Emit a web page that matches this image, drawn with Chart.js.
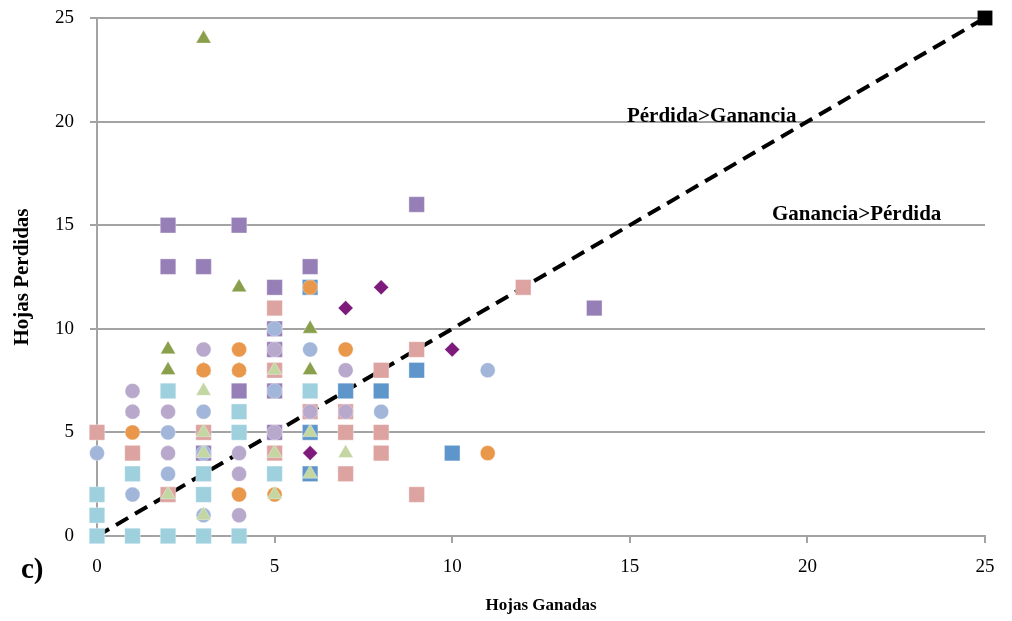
<!DOCTYPE html>
<html>
<head>
<meta charset="utf-8">
<script src="https://cdn.jsdelivr.net/npm/chart.js@4/dist/chart.umd.min.js"></script>
<style>
    html, body { margin: 0; padding: 0; background: #fff; }
    #wrap { width: 1012px; height: 621px; }
</style>
</head>
<body>
<div id="wrap"><canvas id="chart" width="1012" height="621"></canvas></div>
<script>
// values, [hojas ganadas, hojas perdidas]
const lavenderCircles = [[3, 9], [5, 9], [7, 8], [1, 7], [1, 6], [2, 6], [2, 4], [4, 4], [4, 3], [4, 1], [5, 5], [6, 6], [7, 6]];
const lightGreenTriangles = [[5, 8], [3, 7], [3, 5], [3, 4], [5, 4], [2, 2], [5, 2], [3, 1], [6, 5], [7, 4], [6, 3], [1, 6], [2, 4]];
const lightBlueCircles = [[5, 10], [6, 9], [5, 7], [3, 6], [2, 5], [0, 4], [2, 3], [1, 2], [3, 1], [3, 4], [8, 6], [11, 8]];
const orangeCircles = [[6, 12], [4, 9], [7, 9], [3, 8], [4, 8], [1, 5], [4, 2], [5, 2], [11, 4]];
const pinkSquares = [[5, 11], [5, 8], [0, 5], [1, 4], [3, 5], [2, 2], [5, 4], [6, 6], [7, 6], [7, 5], [8, 5], [7, 3], [8, 8], [9, 9], [12, 12], [8, 4], [9, 2]];
const aquaSquares = [[2, 7], [4, 6], [4, 5], [1, 3], [3, 3], [5, 3], [0, 2], [3, 2], [0, 1], [0, 0], [1, 0], [2, 0], [3, 0], [4, 0], [6, 7]];
const greenTriangles = [[3, 24], [4, 12], [6, 10], [2, 9], [2, 8], [3, 8], [4, 8], [6, 8]];
const purpleSquares = [[2, 15], [4, 15], [2, 13], [3, 13], [6, 13], [5, 12], [9, 16], [14, 11], [5, 10], [5, 9], [4, 7], [5, 7], [5, 5], [3, 4]];
const blueSquares = [[6, 12], [9, 8], [7, 7], [8, 7], [6, 5], [6, 3], [10, 4]];
const diamonds = [[8, 12], [7, 11], [10, 9], [6, 4]];

// reference line (ganancia = pérdida)
const refLine = [[0, 0], [25, 25]];

const xTicks = [0, 5, 10, 15, 20, 25];
const yTicks = [0, 5, 10, 15, 20, 25];

const toPoints = arr => arr.map(p => ({x: p[0], y: p[1]}));

function markerSet(data, color, style, radius) {
    return {
        data: toPoints(data),
        pointStyle: style,
        pointRadius: radius,
        pointHoverRadius: radius,
        backgroundColor: color,
        borderColor: 'rgba(255,255,255,0.35)',
        borderWidth: 1,
        showLine: false,
        clip: false
    };
}

const serif = "'Liberation Serif', 'DejaVu Serif', serif";
const gridGray = '#a3a3a3';

// texts drawn on top of the chart
const labelPlugin = {
    id: 'labels',
    afterDraw(chart) {
        const ctx = chart.ctx;
        const xs = chart.scales.x;
        ctx.save();
        ctx.fillStyle = '#000';
        ctx.textBaseline = 'alphabetic';
        ctx.textAlign = 'left';
        ctx.font = 'bold 21px ' + serif;
        ctx.fillText('Pérdida>Ganancia', xs.getPixelForValue(14.92), 122);
        ctx.fillText('Ganancia>Pérdida', xs.getPixelForValue(19.0), 220);
        ctx.font = 'bold 29px ' + serif;
        ctx.textBaseline = 'middle';
        ctx.fillText('c)', 21, 571);
        ctx.restore();
    }
};

new Chart(document.getElementById('chart'), {
    type: 'scatter',
    data: {
        datasets: [
            markerSet(lavenderCircles, '#b8a8cc', 'circle', 7.5),
            markerSet(lightGreenTriangles, '#c4d6a2', 'triangle', 8.7),
            markerSet(lightBlueCircles, '#a2b6da', 'circle', 7.5),
            markerSet(orangeCircles, '#e8974b', 'circle', 7.5),
            markerSet(pinkSquares, '#dca3a1', 'rect', 11),
            markerSet(aquaSquares, '#9ed0de', 'rect', 11),
            markerSet(greenTriangles, '#8a9f4b', 'triangle', 8.7),
            markerSet(purpleSquares, '#967fb6', 'rect', 11),
            markerSet(blueSquares, '#5e96cb', 'rect', 11),
            markerSet(diamonds, '#7d1a7b', 'rectRot', 7.5),
            {
                data: toPoints(refLine),
                showLine: true,
                borderColor: '#000',
                borderWidth: 4,
                borderDash: [14, 8],
                backgroundColor: '#000',
                pointStyle: 'rect',
                pointRadius: [0, 10.5],
                pointBorderWidth: 0,
                clip: false
            }
        ]
    },
    options: {
        responsive: false,
        animation: false,
        layout: {padding: {top: 18, right: 27, left: 0, bottom: 0}},
        plugins: {
            legend: {display: false},
            tooltip: {enabled: false}
        },
        scales: {
            x: {
                type: 'linear',
                min: 0,
                max: 25,
                afterBuildTicks: s => { s.ticks = xTicks.map(v => ({value: v})); },
                afterFit: s => { s.height = 85; },
                border: {color: gridGray, width: 2},
                grid: {drawOnChartArea: false, drawTicks: true, tickLength: 7, color: gridGray, lineWidth: 2},
                ticks: {color: '#000', font: {family: serif, size: 19}, padding: 13, maxRotation: 0},
                title: {display: true, text: 'Hojas Ganadas', color: '#000',
                    font: {family: serif, size: 17, weight: 'bold'}, padding: {top: 0, bottom: 5}}
            },
            y: {
                type: 'linear',
                min: 0,
                max: 25,
                afterBuildTicks: s => { s.ticks = yTicks.map(v => ({value: v})); },
                // fixed width, and no extra room above the top label
                afterFit: s => { s.width = 97; s.paddingTop = 0; },
                border: {color: gridGray, width: 2},
                grid: {color: gridGray, lineWidth: 2, tickLength: 7},
                ticks: {color: '#000', font: {family: serif, size: 19}, padding: 16},
                title: {display: true, text: 'Hojas Perdidas', color: '#000',
                    font: {family: serif, size: 21, weight: 'bold'}, padding: {top: 10, bottom: 0}}
            }
        }
    },
    plugins: [labelPlugin]
});
</script>
</body>
</html>
